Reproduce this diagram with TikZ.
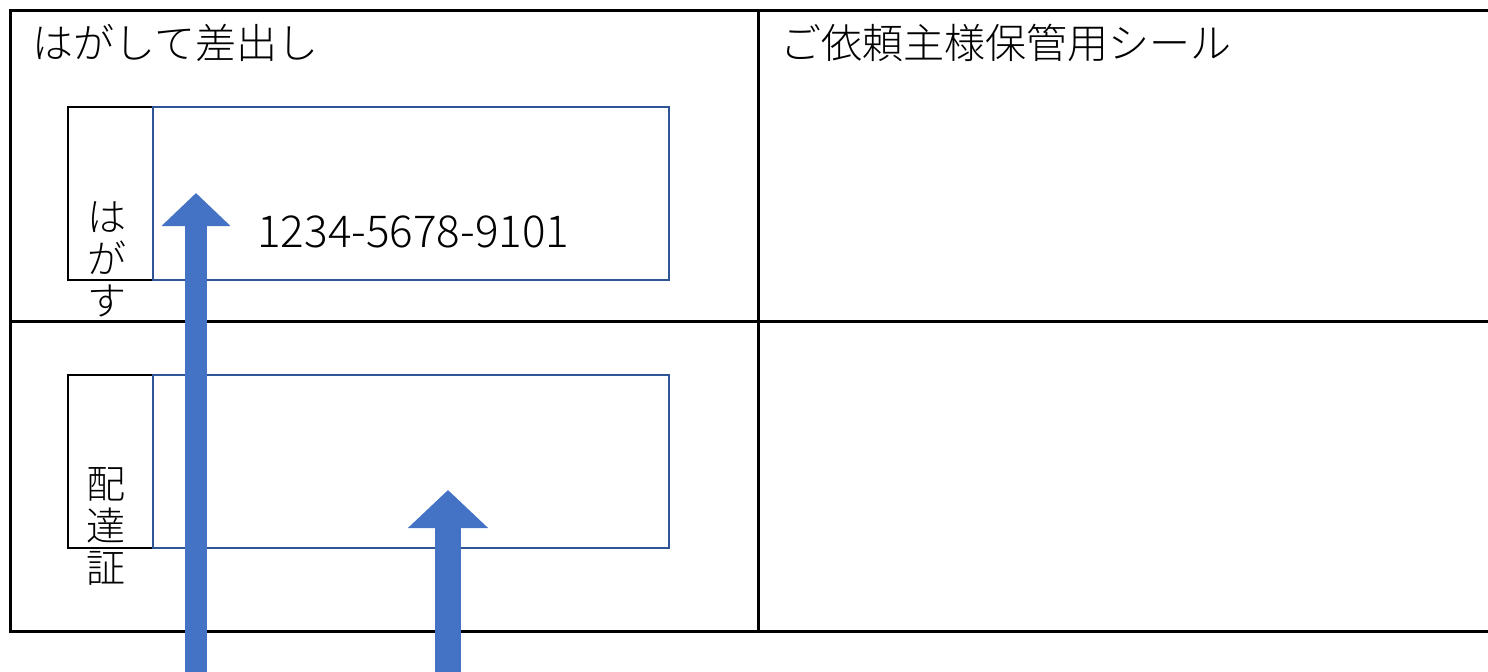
\documentclass[tikz,border=0pt]{standalone}
\usepackage{fontspec}
\IfFontExistsTF{Noto Sans CJK JP Light}{\setmainfont{Noto Sans CJK JP Light}}{\setmainfont{Noto Sans CJK JP}}
\usetikzlibrary{positioning,arrows.meta}
\definecolor{arrowblue}{HTML}{4472C4}
\definecolor{boxblue}{HTML}{2F5597}
\tikzset{
	tabbox/.style={draw=black,line width=0.75pt,minimum width=42.5pt,minimum height=86.5pt,outer sep=0pt,inner sep=0pt},
	labelbox/.style={draw=boxblue,line width=0.8pt,minimum width=258pt,minimum height=86.5pt,outer sep=0pt,inner sep=0pt},
	vtext/.style={align=center,inner sep=0pt,font=\fontsize{19.5}{21}\selectfont},
	heading/.style={anchor=west,inner sep=0pt,font=\fontsize{20.5}{24}\selectfont}
}
\begin{document}
\begin{tikzpicture}[x=0.5pt,y=-0.5pt]
	\useasboundingbox[fill=white] (0,0) rectangle (1488,671);
	% table
	\draw[line width=1.5pt] (1488,10) -- (10,10) -- (10,631) -- (1488,631);
	\draw[line width=1.5pt] (10,321) -- (1488,321);
	\draw[line width=1.5pt] (758,10) -- (758,631);
	\node[heading] (send) at (32,43) {はがして差出し};
	\node[heading] (keep) at (780,43) {ご依頼主様保管用シール};
	% seal boxes
	\node[tabbox,anchor=north west] (tabA) at (68,107) {};
	\node[labelbox,anchor=north west] (labelA) at (tabA.north east) {};
	\node[tabbox,below=47.5pt of tabA] (tabB) {};
	\node[labelbox,anchor=north west] (labelB) at (tabB.north east) {};
	\node[vtext] (peel) at ([xshift=-2pt,yshift=-33pt]tabA.center) {は\\が\\す};
	\node[vtext] (proof) at ([xshift=-2.5pt,yshift=-32.5pt]tabB.center) {配\\達\\証};
	\node[heading,font=\fontsize{22}{24}\selectfont] (num) at ([xshift=52pt,yshift=-19pt]labelA.west) {1234-5678-9101};
	% arrows
	\coordinate (tipA) at (196,193);
	\coordinate (tipB) at (448,490);
	\draw[arrowblue,line width=11pt,-{Triangle[length=16.5pt,width=33.5pt]}] (196,690) -- (tipA);
	\draw[arrowblue,line width=13pt,-{Triangle[length=19pt,width=39pt]}] (448,690) -- (tipB);
\end{tikzpicture}
\end{document}
